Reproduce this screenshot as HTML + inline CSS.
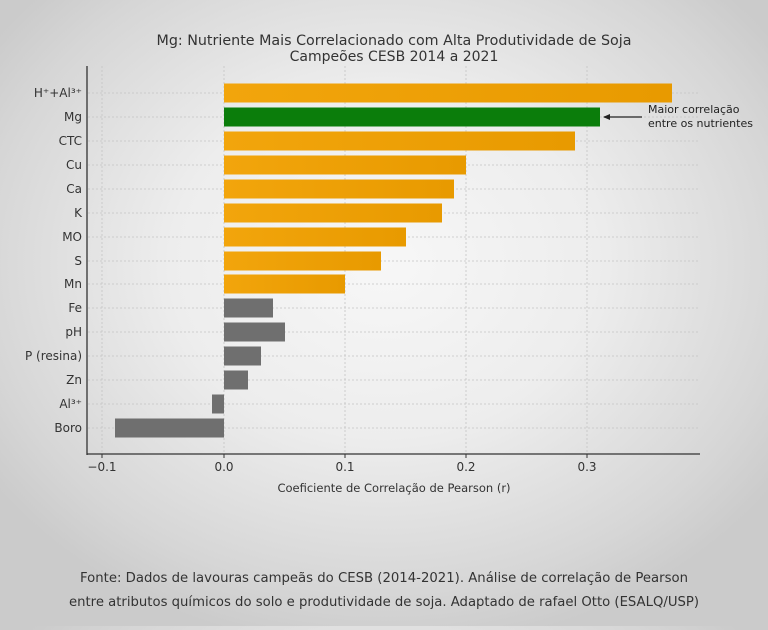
<!DOCTYPE html>
<html><head><meta charset="utf-8"><style>
html,body{margin:0;padding:0}
body{width:768px;height:626px;overflow:hidden;background:radial-gradient(ellipse 62% 62% at 50% 42%,#f7f7f7 0%,#ededed 45%,#d6d6d6 85%,#cbcbcb 100%);font-family:"DejaVu Sans","Liberation Sans",sans-serif}
</style></head><body>
<svg width="768" height="626" xmlns="http://www.w3.org/2000/svg" font-family="DejaVu Sans, Liberation Sans, sans-serif">
<defs>
<linearGradient id="og" x1="0" x2="1"><stop offset="0" stop-color="#f2a50c"/><stop offset="1" stop-color="#e89a00"/></linearGradient>
</defs>
<text x="394" y="45" text-anchor="middle" font-size="14" fill="#333" textLength="475" lengthAdjust="spacingAndGlyphs">Mg: Nutriente Mais Correlacionado com Alta Produtividade de Soja</text>
<text x="394" y="61" text-anchor="middle" font-size="14" fill="#333">Campeões CESB 2014 a 2021</text>
<g stroke="#c4c4c4" stroke-width="0.8" stroke-dasharray="2,2">
<line x1="102" y1="66" x2="102" y2="454"/><line x1="224" y1="66" x2="224" y2="454"/><line x1="345" y1="66" x2="345" y2="454"/><line x1="466" y1="66" x2="466" y2="454"/><line x1="587" y1="66" x2="587" y2="454"/>
<line x1="88" y1="93" x2="700" y2="93"/><line x1="88" y1="117" x2="700" y2="117"/><line x1="88" y1="141" x2="700" y2="141"/><line x1="88" y1="165" x2="700" y2="165"/><line x1="88" y1="189" x2="700" y2="189"/><line x1="88" y1="213" x2="700" y2="213"/><line x1="88" y1="237" x2="700" y2="237"/><line x1="88" y1="261" x2="700" y2="261"/><line x1="88" y1="284" x2="700" y2="284"/><line x1="88" y1="308" x2="700" y2="308"/><line x1="88" y1="332" x2="700" y2="332"/><line x1="88" y1="356" x2="700" y2="356"/><line x1="88" y1="380" x2="700" y2="380"/><line x1="88" y1="404" x2="700" y2="404"/><line x1="88" y1="428" x2="700" y2="428"/>
</g>
<g>
<rect x="224" y="83.5" width="448" height="19" fill="url(#og)"/>
<rect x="224" y="107.5" width="376" height="19" fill="#0b7d0b"/>
<rect x="224" y="131.5" width="351" height="19" fill="url(#og)"/>
<rect x="224" y="155.5" width="242" height="19" fill="url(#og)"/>
<rect x="224" y="179.5" width="230" height="19" fill="url(#og)"/>
<rect x="224" y="203.5" width="218" height="19" fill="url(#og)"/>
<rect x="224" y="227.5" width="182" height="19" fill="url(#og)"/>
<rect x="224" y="251.5" width="157" height="19" fill="url(#og)"/>
<rect x="224" y="274.5" width="121" height="19" fill="url(#og)"/>
<rect x="224" y="298.5" width="49" height="19" fill="#6f6f6f"/>
<rect x="224" y="322.5" width="61" height="19" fill="#6f6f6f"/>
<rect x="224" y="346.5" width="37" height="19" fill="#6f6f6f"/>
<rect x="224" y="370.5" width="24" height="19" fill="#6f6f6f"/>
<rect x="212" y="394.5" width="12" height="19" fill="#6f6f6f"/>
<rect x="115" y="418.5" width="109" height="19" fill="#6f6f6f"/>
</g>
<line x1="87" y1="66" x2="87" y2="455" stroke="#333" stroke-width="1.3"/>
<line x1="87" y1="454" x2="700" y2="454" stroke="#333" stroke-width="1.3"/>
<g stroke="#333"><line x1="102" y1="454" x2="102" y2="458"/><line x1="224" y1="454" x2="224" y2="458"/><line x1="345" y1="454" x2="345" y2="458"/><line x1="466" y1="454" x2="466" y2="458"/><line x1="587" y1="454" x2="587" y2="458"/></g>
<g font-size="12" fill="#333" text-anchor="end">
<text x="82" y="97">H⁺+Al³⁺</text><text x="82" y="121">Mg</text><text x="82" y="145">CTC</text><text x="82" y="169">Cu</text><text x="82" y="193">Ca</text><text x="82" y="217">K</text><text x="82" y="241">MO</text><text x="82" y="265">S</text><text x="82" y="288">Mn</text><text x="82" y="312">Fe</text><text x="82" y="336">pH</text><text x="82" y="360">P (resina)</text><text x="82" y="384">Zn</text><text x="82" y="408">Al³⁺</text><text x="82" y="432">Boro</text>
</g>
<g font-size="12" fill="#333" text-anchor="middle">
<text x="102" y="471">−0.1</text><text x="224" y="471">0.0</text><text x="345" y="471">0.1</text><text x="466" y="471">0.2</text><text x="587" y="471">0.3</text>
</g>
<text x="394" y="492" text-anchor="middle" font-size="11.5" fill="#333">Coeficiente de Correlação de Pearson (r)</text>
<line x1="604" y1="117" x2="642" y2="117" stroke="#222" stroke-width="1.2"/>
<path d="M603 117 L610 114 L610 120 Z" fill="#222"/>
<text x="648" y="113" font-size="11" fill="#222">Maior correlação</text>
<text x="648" y="127" font-size="11" fill="#222">entre os nutrientes</text>
<text x="384" y="582" text-anchor="middle" font-size="13" fill="#333" textLength="608" lengthAdjust="spacingAndGlyphs">Fonte: Dados de lavouras campeãs do CESB (2014-2021). Análise de correlação de Pearson</text>
<text x="384" y="606" text-anchor="middle" font-size="13" fill="#333" textLength="630" lengthAdjust="spacingAndGlyphs">entre atributos químicos do solo e produtividade de soja. Adaptado de rafael Otto (ESALQ/USP)</text>
</svg>
</body></html>
